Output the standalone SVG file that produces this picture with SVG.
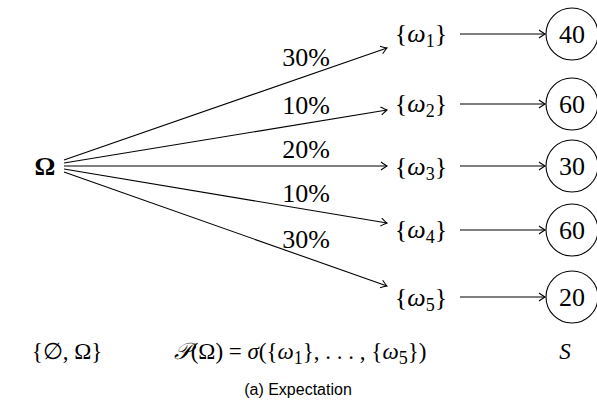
<svg xmlns="http://www.w3.org/2000/svg" width="597" height="412" viewBox="0 0 597 412">
<style>
.m{font-family:"Liberation Serif","DejaVu Serif",serif;font-size:26px;fill:#000}
.b{font-size:23px}
.i{font-style:italic}
.s{font-size:18px}
.cap{font-family:"Liberation Sans",Arial,sans-serif;font-size:16px;fill:#000}
.e{fill:none;stroke:#000;stroke-width:1.1}
.c{fill:#fff;stroke:#000;stroke-width:1.1}
</style>
<defs>
<marker id="to" markerUnits="userSpaceOnUse" markerWidth="12" markerHeight="12" viewBox="-8 -6 10 12" refX="0" refY="0" orient="auto">
<path d="M-6,-4 Q-1.5,-0.8 0,0 Q-1.5,0.8 -6,4" fill="none" stroke="#000" stroke-width="1.1"/>
</marker>
</defs>
<rect width="597" height="412" fill="#fff"/>
<g id="connectors">
<line class="e" x1="64" y1="160" x2="387" y2="48" marker-end="url(#to)"/>
<line class="e" x1="64" y1="163" x2="387" y2="110" marker-end="url(#to)"/>
<line class="e" x1="64" y1="166" x2="387" y2="166" marker-end="url(#to)"/>
<line class="e" x1="64" y1="169" x2="387" y2="223" marker-end="url(#to)"/>
<line class="e" x1="64" y1="172" x2="387" y2="286" marker-end="url(#to)"/>
<line class="e" x1="460" y1="34" x2="545" y2="34" marker-end="url(#to)"/>
<line class="e" x1="460" y1="104" x2="545" y2="104" marker-end="url(#to)"/>
<line class="e" x1="460" y1="166" x2="545" y2="166" marker-end="url(#to)"/>
<line class="e" x1="460" y1="230" x2="545" y2="230" marker-end="url(#to)"/>
<line class="e" x1="460" y1="297" x2="545" y2="297" marker-end="url(#to)"/>
<text class="m" x="306" y="66" text-anchor="middle">30%</text>
<text class="m" x="306" y="114" text-anchor="middle">10%</text>
<text class="m" x="306" y="158" text-anchor="middle">20%</text>
<text class="m" x="306" y="202" text-anchor="middle">10%</text>
<text class="m" x="306" y="248" text-anchor="middle">30%</text>
</g>
<g id="omega"><text class="m" x="45" y="175" text-anchor="middle" font-weight="bold">Ω</text></g>
<g id="w1"><text class="m" x="421" y="42" text-anchor="middle">{<tspan class="i">ω</tspan><tspan class="s" dy="5">1</tspan><tspan dy="-5">}</tspan></text></g>
<g id="w2"><text class="m" x="421" y="112" text-anchor="middle">{<tspan class="i">ω</tspan><tspan class="s" dy="5">2</tspan><tspan dy="-5">}</tspan></text></g>
<g id="w3"><text class="m" x="421" y="175" text-anchor="middle">{<tspan class="i">ω</tspan><tspan class="s" dy="5">3</tspan><tspan dy="-5">}</tspan></text></g>
<g id="w4"><text class="m" x="421" y="238" text-anchor="middle">{<tspan class="i">ω</tspan><tspan class="s" dy="5">4</tspan><tspan dy="-5">}</tspan></text></g>
<g id="w5"><text class="m" x="421" y="306" text-anchor="middle">{<tspan class="i">ω</tspan><tspan class="s" dy="5">5</tspan><tspan dy="-5">}</tspan></text></g>
<g id="v1"><circle class="c" cx="572" cy="34" r="26"/><text class="m" x="572" y="43" text-anchor="middle">40</text></g>
<g id="v2"><circle class="c" cx="572" cy="104" r="26"/><text class="m" x="572" y="113" text-anchor="middle">60</text></g>
<g id="v3"><circle class="c" cx="572" cy="166" r="26"/><text class="m" x="572" y="175" text-anchor="middle">30</text></g>
<g id="v4"><circle class="c" cx="572" cy="230" r="26"/><text class="m" x="572" y="239" text-anchor="middle">60</text></g>
<g id="v5"><circle class="c" cx="572" cy="297" r="26"/><text class="m" x="572" y="306" text-anchor="middle">20</text></g>
<g id="bottom">
<text class="m b" x="67" y="359" text-anchor="middle">{∅, Ω}</text>
<text class="m b" x="300" y="359" text-anchor="middle"><tspan class="i">𝒫</tspan>(Ω) = <tspan class="i">σ</tspan>({<tspan class="i">ω</tspan><tspan class="s" dy="5">1</tspan><tspan dy="-5">}, . . . , {</tspan><tspan class="i">ω</tspan><tspan class="s" dy="5">5</tspan><tspan dy="-5">})</tspan></text>
<text class="m b i" x="565" y="359" text-anchor="middle">S</text>
</g>
<text class="cap" x="298" y="395" text-anchor="middle">(a) Expectation</text>
</svg>
